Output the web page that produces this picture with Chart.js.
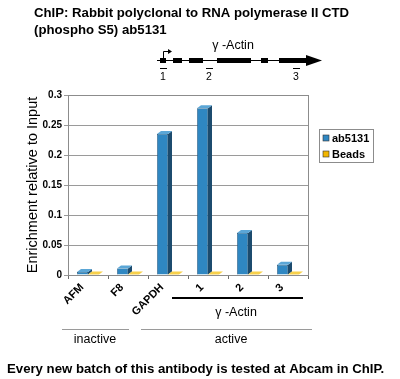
<!DOCTYPE html>
<html>
<head>
<meta charset="utf-8">
<script src="https://cdn.jsdelivr.net/npm/chart.js@4.4.0/dist/chart.umd.min.js"></script>
<style>
  html, body { margin: 0; padding: 0; background: #ffffff; }
  #wrap { position: relative; width: 400px; height: 379px; }
</style>
</head>
<body>
<div id="wrap"><canvas id="chipChart" width="400" height="379"></canvas></div>
<script>
// Données du graphique
const categories = ['AFM', 'F8', 'GAPDH', '1', '2', '3'];
const ab5131Values = [0.005, 0.011, 0.235, 0.278, 0.07, 0.017];
const beadsValues = [0.001, 0.001, 0.001, 0.001, 0.001, 0.001];
const yTicks = [0, 0.05, 0.1, 0.15, 0.2, 0.25, 0.3];

const FONT = '"Liberation Sans", Arial, sans-serif';

// Couleurs des séries (face, côté, dessus)
const seriesColors = [
    { front: '#2f87c2', side: '#1c4b6e', top: '#5ba6d6' },
    { front: '#f2b600', side: '#8a6a00', top: '#f7d04a' }
];

// Effet 3D : dessiner les faces latérales et supérieures des barres
const bars3d = {
    id: 'bars3d',
    afterDatasetsDraw(chart) {
        const ctx = chart.ctx;
        const dx = 4, dy = 3;
        chart.data.datasets.forEach((ds, i) => {
            const meta = chart.getDatasetMeta(i);
            const c = seriesColors[i];
            meta.data.forEach(bar => {
                const left = bar.x - bar.width / 2;
                const right = bar.x + bar.width / 2;
                const top = bar.y;
                const bottom = bar.base;
                ctx.save();
                // côté
                ctx.fillStyle = c.side;
                ctx.beginPath();
                ctx.moveTo(right, top);
                ctx.lineTo(right + dx, top - dy);
                ctx.lineTo(right + dx, bottom - dy);
                ctx.lineTo(right, bottom);
                ctx.closePath();
                ctx.fill();
                // dessus
                ctx.fillStyle = c.top;
                ctx.beginPath();
                ctx.moveTo(left, top);
                ctx.lineTo(left + dx, top - dy);
                ctx.lineTo(right + dx, top - dy);
                ctx.lineTo(right, top);
                ctx.closePath();
                ctx.fill();
                ctx.restore();
            });
        });
    }
};

// Cadre, légende et annotations autour du graphique
const annotations = {
    id: 'annotations',
    beforeDatasetsDraw(chart) {
        const ctx = chart.ctx;
        const a = chart.chartArea;
        ctx.save();
        ctx.strokeStyle = '#8c8c8c';
        ctx.lineWidth = 1;
        ctx.strokeRect(a.left + 0.5, a.top + 0.5, a.right - a.left, a.bottom - a.top);
        ctx.restore();
    },
    afterDraw(chart) {
        const ctx = chart.ctx;
        ctx.save();
        ctx.fillStyle = '#000';
        ctx.textBaseline = 'middle';

        // Titre
        ctx.font = 'bold 13.2px ' + FONT;
        ctx.textAlign = 'left';
        ctx.fillText('ChIP: Rabbit polyclonal to RNA polymerase II CTD', 34, 13);
        ctx.fillText('(phospho S5) ab5131', 34, 30);

        // Schéma du gène
        ctx.font = '12.5px ' + FONT;
        ctx.textAlign = 'center';
        ctx.fillText('\u03b3 -Actin', 233, 46);
        ctx.strokeStyle = '#000';
        ctx.lineWidth = 1;
        ctx.beginPath();
        ctx.moveTo(157, 60.5);
        ctx.lineTo(306, 60.5);
        ctx.stroke();
        const exons = [[160, 166], [173, 182], [189, 203], [217, 251], [261, 268], [279, 306]];
        exons.forEach(e => ctx.fillRect(e[0], 58, e[1] - e[0], 5));
        ctx.beginPath();
        ctx.moveTo(306, 55);
        ctx.lineTo(322, 60.5);
        ctx.lineTo(306, 66);
        ctx.closePath();
        ctx.fill();
        // promoteur
        ctx.beginPath();
        ctx.moveTo(163.5, 58);
        ctx.lineTo(163.5, 51.5);
        ctx.lineTo(169, 51.5);
        ctx.stroke();
        ctx.beginPath();
        ctx.moveTo(172, 51.5);
        ctx.lineTo(168, 49);
        ctx.lineTo(168, 54);
        ctx.closePath();
        ctx.fill();
        [[160, 167], [206, 213], [293, 300]].forEach(u => {
            ctx.beginPath();
            ctx.moveTo(u[0], 68.5);
            ctx.lineTo(u[1], 68.5);
            ctx.stroke();
        });
        ctx.font = '10.5px ' + FONT;
        ctx.fillText('1', 163, 77);
        ctx.fillText('2', 209, 77);
        ctx.fillText('3', 296, 77);

        // Légende
        const lx = 319, ly = 129;
        ctx.strokeStyle = '#8c8c8c';
        ctx.strokeRect(lx + 0.5, ly + 0.5, 54, 33);
        ctx.font = 'bold 11px ' + FONT;
        ctx.textAlign = 'left';
        chart.data.datasets.forEach((ds, i) => {
            const yy = ly + 9 + i * 16;
            ctx.fillStyle = seriesColors[i].front;
            ctx.fillRect(lx + 4, yy - 3, 6, 6);
            ctx.strokeStyle = '#333';
            ctx.lineWidth = 0.6;
            ctx.strokeRect(lx + 4, yy - 3, 6, 6);
            ctx.fillStyle = '#000';
            ctx.fillText(ds.label, lx + 13, yy + 1);
        });

        // Groupes sous l'axe
        ctx.fillStyle = '#000';
        ctx.strokeStyle = '#000';
        ctx.lineWidth = 2;
        ctx.beginPath();
        ctx.moveTo(172, 298);
        ctx.lineTo(303, 298);
        ctx.stroke();
        ctx.font = '12.5px ' + FONT;
        ctx.textAlign = 'center';
        ctx.fillText('\u03b3 -Actin', 236, 313);
        ctx.strokeStyle = '#9a9a9a';
        ctx.lineWidth = 1;
        ctx.beginPath();
        ctx.moveTo(62, 329.5);
        ctx.lineTo(129, 329.5);
        ctx.moveTo(141, 329.5);
        ctx.lineTo(312, 329.5);
        ctx.stroke();
        ctx.fillText('inactive', 95, 340);
        ctx.fillText('active', 231, 340);

        // Note de bas de page
        ctx.font = 'bold 13.2px ' + FONT;
        ctx.textAlign = 'left';
        ctx.fillText('Every new batch of this antibody is tested at Abcam in ChIP.', 7, 369);
        ctx.restore();
    }
};

const ctx = document.getElementById('chipChart').getContext('2d');
const chipChart = new Chart(ctx, {
    type: 'bar',
    data: {
        labels: categories,
        datasets: [
            {
                label: 'ab5131',
                data: ab5131Values,
                backgroundColor: seriesColors[0].front,
                borderColor: '#163c58',
                borderWidth: 0.6
            },
            {
                label: 'Beads',
                data: beadsValues,
                backgroundColor: seriesColors[1].front,
                borderColor: '#7a5c00',
                borderWidth: 0.6
            }
        ]
    },
    options: {
        responsive: false,
        animation: false,
        devicePixelRatio: 1,
        layout: {
            padding: { top: 95, right: 92, left: 0, bottom: 0 }
        },
        plugins: {
            legend: { display: false },
            tooltip: { enabled: false },
            title: { display: false }
        },
        datasets: {
            bar: {
                categoryPercentage: 0.55,
                barPercentage: 1.0
            }
        },
        scales: {
            x: {
                afterFit: scale => { scale.height = 104; },
                grid: {
                    display: true,
                    offset: true,
                    drawOnChartArea: false,
                    tickLength: 4,
                    color: '#6d6d6d'
                },
                border: { display: true, color: '#6d6d6d' },
                ticks: {
                    minRotation: 45,
                    maxRotation: 45,
                    padding: 2,
                    labelOffset: -6,
                    color: '#000',
                    font: { family: FONT, size: 11, weight: 'bold' }
                }
            },
            y: {
                min: 0,
                max: 0.3,
                afterFit: scale => { scale.width = 68; },
                afterBuildTicks: scale => {
                    scale.ticks = yTicks.map(v => ({ value: v }));
                },
                grid: {
                    color: '#9a9a9a',
                    tickLength: 4
                },
                border: { display: true, color: '#6d6d6d' },
                ticks: {
                    padding: 2,
                    color: '#000',
                    font: { family: FONT, size: 10, weight: 'bold' },
                    callback: v => String(v)
                },
                title: {
                    display: true,
                    text: 'Enrichment relative to Input',
                    color: '#000',
                    padding: { top: 24, bottom: 0 },
                    font: { family: FONT, size: 14.5 }
                }
            }
        }
    },
    plugins: [annotations, bars3d]
});
</script>
</body>
</html>
